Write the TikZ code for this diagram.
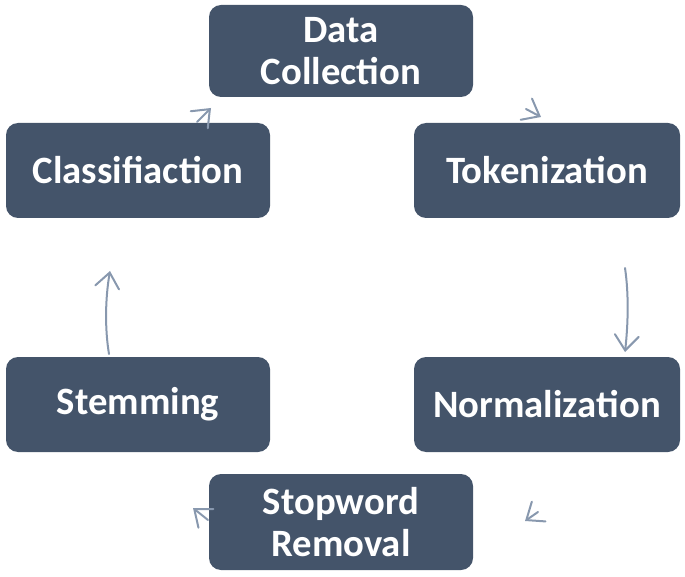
\documentclass[tikz,border=0pt]{standalone}
\usepackage{fontspec}
\setmainfont{Carlito}
\usetikzlibrary{arrows.meta}
\definecolor{boxblue}{HTML}{44546A}
\definecolor{arrowblue}{HTML}{8898AE}
\tikzset{
  stage/.style={draw=none, fill=boxblue, rounded corners=12pt, text=white,
    font=\fontsize{38.7}{42}\selectfont\bfseries, align=center, inner sep=0pt},
  cyc/.style={draw=arrowblue, line width=2pt, line cap=round,
    -{Straight Barb[length=15pt,width=24pt,line cap=round]}}
}
\begin{document}
\begin{tikzpicture}[x=1pt,y=-1pt]
\useasboundingbox (0,0) rectangle (685,577);
\node[stage, minimum width=264pt, minimum height=92pt] (dc) at (341,51) {Data\\Collection};
\node[stage, minimum width=264pt, minimum height=95pt] (cls) at (138,170.5) {Classifiaction};
\node[stage, minimum width=266pt, minimum height=95pt] (tok) at (547,170.5) {Tokenization};
\node[stage, minimum width=264pt, minimum height=95pt] (stem) at (138,404.5) {Stemming};
\node[stage, minimum width=266pt, minimum height=95pt] (norm) at (547,404.5) {Normalization};
\node[stage, minimum width=264pt, minimum height=96pt] (stop) at (341,522) {Stopword\\Removal};
% arrow end points
\coordinate (a1s) at (197,122);
\coordinate (a1e) at (211,108);
\coordinate (a2s) at (526,109);
\coordinate (a2e) at (541,117);
\coordinate (a3s) at (625,268);
\coordinate (a3e) at (625,352);
\coordinate (a4s) at (538,512);
\coordinate (a4e) at (525,521);
\coordinate (a5s) at (208,520);
\coordinate (a5e) at (193,508);
\coordinate (a6s) at (109,354);
\coordinate (a6e) at (110,271);
\draw[cyc] (a1s) -- (a1e);
\draw[cyc] (a2s) -- (a2e);
\draw[cyc] (a3s) .. controls (629,295) and (628,325) .. (a3e);
\draw[cyc] (a4s) -- (a4e);
\draw[cyc] (a5s) -- (a5e);
\draw[cyc] (a6s) .. controls (105,330) and (105,300) .. (a6e);
\end{tikzpicture}
\end{document}
